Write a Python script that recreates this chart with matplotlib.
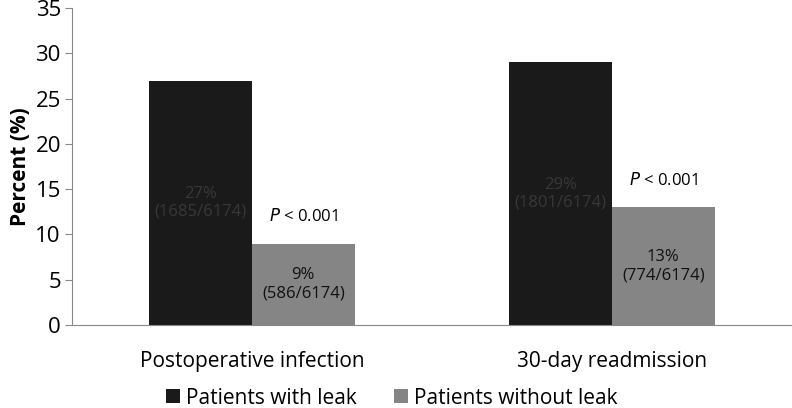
import matplotlib.pyplot as plt
import numpy as np

plt.rcParams['font.family'] = ['Open Sans', 'DejaVu Sans']

categories = ['Postoperative infection', '30-day readmission']
with_leak = [27, 29]
without_leak = [9, 13]
with_counts = ['(1685/6174)', '(1801/6174)']
without_counts = ['(586/6174)', '(774/6174)']
p_labels = ['< 0.001', '< 0.001']

fig = plt.figure(figsize=(7.92, 4.08), dpi=100)
ax = fig.add_axes([0.0909, 0.2034, 0.9091, 0.7766])

x = np.arange(len(categories))
w = 0.285
ax.bar(x - w / 2, with_leak, w, color='#1a1a1a', label='Patients with leak')
ax.bar(x + w / 2, without_leak, w, color='#858585', label='Patients without leak')

for i in range(len(categories)):
    ax.text(x[i] - w / 2, with_leak[i] / 2, f'{with_leak[i]}%\n{with_counts[i]}',
            ha='center', va='center', fontsize=12, color='#383838', linespacing=1.2)
    ax.text(x[i] + w / 2, without_leak[i] / 2, f'{without_leak[i]}%\n{without_counts[i]}',
            ha='center', va='center', fontsize=12, color='#111111', linespacing=1.2)
    ax.text(x[i] + w / 2, without_leak[i] + 3, r'$\it{P}$ ' + p_labels[i],
            ha='center', va='center', fontsize=12, color='black')

ax.set_xlim(-0.5, 1.5)
ax.set_ylim(0, 35)
ax.set_yticks(range(0, 36, 5))
ax.set_xticks(x)
ax.set_xticklabels(categories, fontsize=15)
ax.tick_params(axis='x', length=0, pad=19)
ax.tick_params(axis='y', labelsize=16, length=5, color='#888888', pad=3)
ax.set_ylabel('Percent (%)', fontsize=15, fontweight='bold', labelpad=3)

for s in ['top', 'right']:
    ax.spines[s].set_visible(False)
ax.spines['left'].set_color('#888888')
ax.spines['bottom'].set_color('#888888')

fig.legend(loc='center', bbox_to_anchor=(0.495, 0.024), ncol=2, frameon=False,
           fontsize=15, handlelength=0.65, handleheight=0.65, columnspacing=1.8,
           handletextpad=0.3, borderpad=0)

fig.savefig('out.png', dpi=100)
